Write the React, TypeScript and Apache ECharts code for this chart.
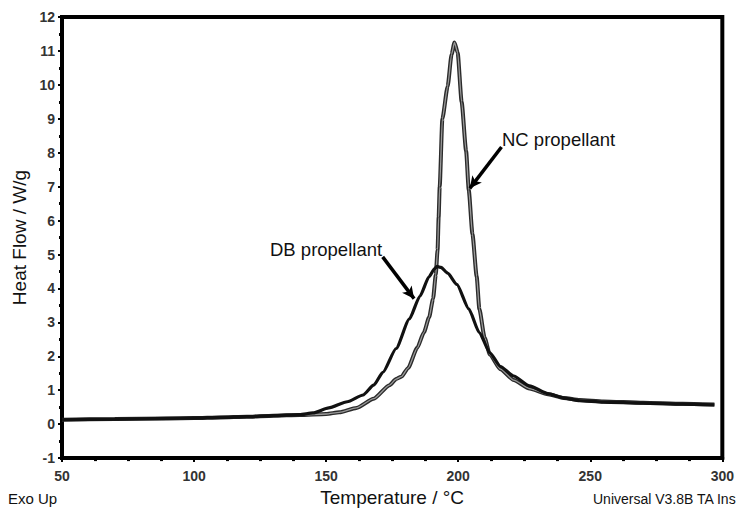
import React, { useEffect, useRef } from "react";
import * as echarts from "echarts";

// Temperature (°C) and heat flow (W/g)
const DB_T = [50, 70, 90, 100, 110, 120, 130, 140, 145, 151, 158, 164, 168, 171.5, 176.5, 181.5, 185.5, 189, 191, 192, 193.5, 196, 199.5, 204, 208, 212, 216, 221, 227, 234, 240, 246, 255, 270, 285, 297];
const DB_V = [0.13, 0.15, 0.17, 0.18, 0.2, 0.22, 0.25, 0.28, 0.33, 0.48, 0.66, 0.86, 1.15, 1.53, 2.23, 3.1, 3.77, 4.35, 4.58, 4.65, 4.62, 4.45, 4.12, 3.4, 2.7, 2.1, 1.7, 1.42, 1.13, 0.9, 0.77, 0.69, 0.65, 0.62, 0.59, 0.57];

const NC_T = [50, 70, 90, 100, 110, 120, 130, 140, 150, 155, 161.5, 168, 174, 176.5, 178.5, 181, 184.5, 187, 189, 190.5, 191.5, 192.2, 192.6, 193, 194, 196, 197.5, 198.6, 199.8, 201.3, 203, 204, 205.4, 207, 208, 210, 212, 216, 221, 227, 234, 240, 246, 255, 270, 285, 297];
const NC_V = [0.13, 0.15, 0.17, 0.18, 0.2, 0.22, 0.25, 0.27, 0.3, 0.35, 0.48, 0.75, 1.15, 1.33, 1.4, 1.65, 2.25, 2.7, 3.15, 3.7, 4.4, 5.14, 6.1, 7.0, 9.0, 9.95, 10.9, 11.25, 10.95, 9.5, 8.05, 6.9, 5.6, 4.35, 3.4, 2.55, 2.05, 1.62, 1.3, 1.05, 0.88, 0.77, 0.71, 0.67, 0.63, 0.6, 0.58];

// annotation arrows [from, to] in data units
const ARROW_NC = [[216.4, 8.17], [204.4, 6.95]];
const ARROW_DB = [[171.4, 4.93], [183.3, 3.7]];

const X_MIN = 50, X_MAX = 300, X_STEP = 50;
const Y_MIN = -1, Y_MAX = 12, Y_STEP = 1;

const FONT = "Liberation Sans, Arial, sans-serif";

const zip = (xs: number[], ys: number[]) => xs.map((x, i) => [x, ys[i]]);

export default function App() {
  const ref = useRef<HTMLDivElement>(null);
  useEffect(() => {
    document.body.style.margin = "0";
    const chart = echarts.init(ref.current!, undefined, { renderer: "svg" });
    const arrowLine = (a: number[][]) => [{ coord: a[0] }, { coord: a[1] }];
    chart.setOption({
      animation: false,
      backgroundColor: "#fff",
      grid: {
        left: 62, right: 14, top: 17, bottom: 48,
        show: true, borderColor: "#000", borderWidth: 4, backgroundColor: "transparent",
      },
      xAxis: {
        type: "value", min: X_MIN, max: X_MAX, interval: X_STEP,
        name: "Temperature / °C", nameLocation: "middle", nameGap: 26,
        nameTextStyle: { fontFamily: FONT, fontSize: 19, color: "#111" },
        axisLine: { show: true, onZero: false, lineStyle: { color: "#000", width: 4 } },
        axisTick: { show: true, length: 4, lineStyle: { color: "#000", width: 2 } },
        minorTick: { show: true, splitNumber: 4, length: 3, lineStyle: { color: "#000", width: 3 } },
        splitLine: { show: false },
        axisLabel: { margin: 11, fontFamily: FONT, fontSize: 14, fontWeight: "bold", color: "#333" },
      },
      yAxis: {
        type: "value", min: Y_MIN, max: Y_MAX, interval: Y_STEP,
        name: "Heat Flow / W/g", nameLocation: "middle", nameGap: 33,
        nameTextStyle: { fontFamily: FONT, fontSize: 19, color: "#111" },
        axisLine: { show: true, onZero: false, lineStyle: { color: "#000", width: 4 } },
        axisTick: { show: true, length: 4, lineStyle: { color: "#000", width: 2 } },
        minorTick: { show: true, splitNumber: 2, length: 3, lineStyle: { color: "#000", width: 3 } },
        splitLine: { show: false },
        axisLabel: { margin: 7, fontFamily: FONT, fontSize: 14, fontWeight: "bold", color: "#333" },
      },
      series: [
        {
          name: "NC propellant", type: "line", data: zip(NC_T, NC_V), showSymbol: false,
          smooth: 0.2, smoothMonotone: "x",
          lineStyle: { color: "#2b2b2b", width: 4 }, z: 2, silent: true,
        },
        {
          name: "NC propellant core", type: "line", data: zip(NC_T, NC_V), showSymbol: false,
          smooth: 0.2, smoothMonotone: "x",
          lineStyle: { color: "#9a9a9a", width: 1.3 }, z: 3, silent: true,
        },
        {
          name: "DB propellant", type: "line", data: zip(DB_T, DB_V), showSymbol: false,
          smooth: 0.2, smoothMonotone: "x",
          lineStyle: { color: "#111", width: 3.2 }, z: 4, silent: true,
          markLine: {
            silent: true, animation: false,
            symbol: ["none", "arrow"], symbolSize: [9, 12],
            label: { show: false },
            lineStyle: { color: "#000", width: 3.5, type: "solid" },
            data: [arrowLine(ARROW_NC), arrowLine(ARROW_DB)],
          },
        },
      ],
      graphic: [
        { type: "text", left: 502, top: 130, style: { text: "NC propellant", fontFamily: FONT, fontSize: 18.5, fill: "#111" } },
        { type: "text", left: 270, top: 240, style: { text: "DB propellant", fontFamily: FONT, fontSize: 18.5, fill: "#111" } },
        { type: "text", left: 8, top: 491, style: { text: "Exo Up", fontFamily: FONT, fontSize: 15, fill: "#111" } },
        { type: "text", left: 593, top: 492, style: { text: "Universal V3.8B TA Ins", fontFamily: FONT, fontSize: 14, fill: "#111" } },
      ],
    });
    return () => chart.dispose();
  }, []);
  return <div ref={ref} style={{ width: 737, height: 512 }} />;
}
